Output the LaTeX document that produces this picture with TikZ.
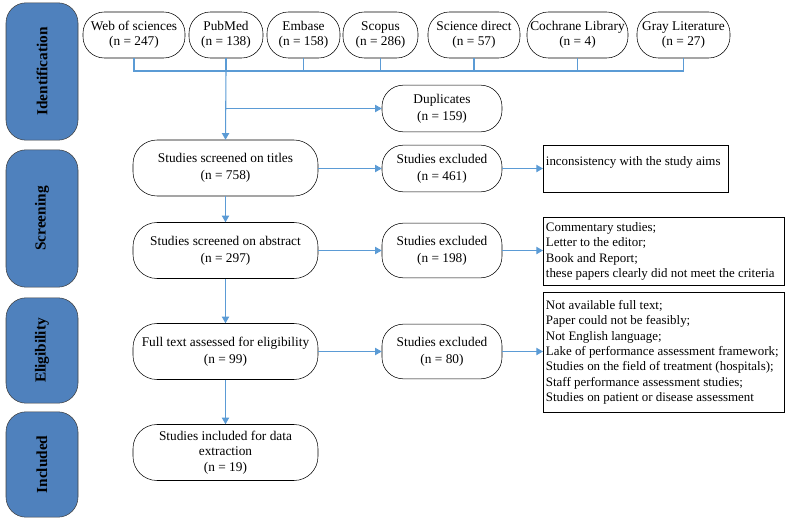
\documentclass[tikz,border=0pt]{standalone}
\usepackage{fontspec}
\setmainfont{Liberation Serif}
\usetikzlibrary{arrows.meta, positioning}
\definecolor{phaseblue}{RGB}{79,129,189}
\definecolor{flowblue}{RGB}{91,155,213}

\begin{document}
\begin{tikzpicture}[x=0.75pt, y=-0.75pt,
  every node/.style={font=\fontsize{10}{11.5}\selectfont},
  phase/.style={draw=black!75, fill=phaseblue, rounded corners=15pt, rotate=90,
    minimum height=54pt, inner sep=0pt, font=\bfseries\fontsize{11.5}{13}\selectfont},
  source/.style={draw, fill=white, rounded corners=16pt, minimum height=34.5pt,
    inner sep=1pt, align=center},
  stage/.style={draw, fill=white, rounded corners=18pt, minimum width=138.75pt,
    minimum height=42pt, align=center, font=\fontsize{10}{12.5}\selectfont},
  excl/.style={draw, fill=white, rounded corners=16pt, minimum width=90pt,
    minimum height=35pt, align=center, font=\fontsize{10}{12.5}\selectfont},
  reason/.style={draw, fill=white, anchor=north west, align=flush left, inner sep=2pt,
    font=\fontsize{9.7}{11.5}\selectfont},
  flow/.style={draw=flowblue, line width=0.8pt},
  arrow/.style={flow, -{Triangle[length=5pt, width=5.5pt]}}]

  \useasboundingbox (0,0) rectangle (790,521);

  % Phase labels on the left
  \node[phase, minimum width=103pt] (ident) at (42,71.5)  {Identification};
  \node[phase, minimum width=103pt] (screen) at (42,218.5) {Screening};
  \node[phase, minimum width=79pt]  (elig) at (42,350.5)  {Eligibility};
  \node[phase, minimum width=79pt]  (incl) at (42,464.5)  {Included};

  % Databases
  \node[source, minimum width=76.5pt] (web)      at (134,35)   {Web of sciences\\(n = 247)};
  \node[source, minimum width=55.5pt] (pubmed)   at (226,35)   {PubMed\\(n = 138)};
  \node[source, minimum width=54.75pt] (embase)  at (303.5,35) {Embase\\(n = 158)};
  \node[source, minimum width=56.25pt] (scopus)  at (380.5,35) {Scopus\\(n = 286)};
  \node[source, minimum width=69pt] (science)    at (474,35)   {Science direct\\(n = 57)};
  \node[source, minimum width=75.75pt] (cochrane) at (577.5,35) {Cochrane Library\\(n = 4)};
  \node[source, minimum width=69.75pt] (gray)    at (683.5,35) {Gray Literature\\(n = 27)};

  % Main stages
  \node[stage] (titles)   at (225.5,168)   {Studies screened on titles\\(n = 758)};
  \node[stage] (abstract) at (225.5,250.5) {Studies screened on abstract\\(n = 297)};
  \node[stage] (fulltext) at (225.5,351.5) {Full text assessed for eligibility\\(n = 99)};
  \node[stage, font=\fontsize{10}{11.5}\selectfont] (included) at (225.5,452.5)
    {Studies included for data\\extraction\\(n = 19)};

  % Duplicates and exclusions
  \node[excl] (dup)   at (442,108.5) {Duplicates\\(n = 159)};
  \node[excl] (exclA) at (442,168.5) {Studies excluded\\(n = 461)};
  \node[excl, minimum height=41pt] (exclB) at (442,250.5) {Studies excluded\\(n = 198)};
  \node[excl, minimum height=41pt] (exclC) at (442,351.5) {Studies excluded\\(n = 80)};

  % Reasons
  \node[reason, text width=134.75pt, minimum height=35pt] (whyA) at (543,145)
    {inconsistency with the study aims\\ \mbox{}};
  \node[reason, text width=177pt, minimum height=51pt] (whyB) at (543,217)
    {Commentary studies;\\Letter to the editor;\\Book and Report;\\these papers clearly did not meet the criteria};
  \node[reason, text width=177pt, minimum height=90pt] (whyC) at (543,292)
    {Not available full text;\\Paper could not be feasibly;\\Not English language;\\Lake of performance assessment framework;\\Studies on the field of treatment (hospitals);\\Staff performance assessment studies;\\Studies on patient or disease assessment};

  % Collecting line under the databases
  \coordinate (bus) at (0,71);
  \draw[flow] (web.south) -- (web.south |- bus) -- (gray.south |- bus) -- (gray.south);
  \foreach \n in {pubmed, embase, scopus, science, cochrane}
    \draw[flow] (\n.south) -- (\n.south |- bus);

  % Flow down the stages
  \draw[arrow] (pubmed.south |- bus) -- (titles.north);
  \draw[arrow] (pubmed.south |- dup.west) -- (dup.west);
  \draw[arrow] (titles) -- (abstract);
  \draw[arrow] (abstract) -- (fulltext);
  \draw[arrow] (fulltext) -- (included);

  % Exclusions
  \draw[arrow] (titles.east |- exclA.west) -- (exclA.west);
  \draw[arrow] (exclA.east) -- (exclA.east -| whyA.west);
  \draw[arrow] (abstract.east) -- (exclB.west);
  \draw[arrow] (exclB.east) -- (exclB.east -| whyB.west);
  \draw[arrow] (fulltext.east) -- (exclC.west);
  \draw[arrow] (exclC.east) -- (exclC.east -| whyC.west);
\end{tikzpicture}
\end{document}
